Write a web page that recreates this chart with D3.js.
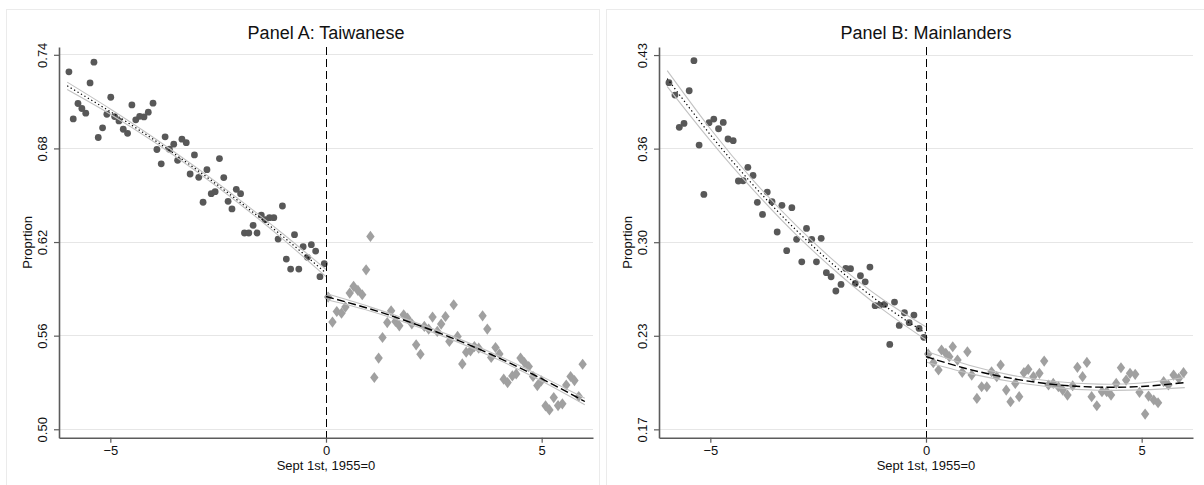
<!DOCTYPE html>
<html><head><meta charset="utf-8">
<script src="https://cdn.jsdelivr.net/npm/d3@7"></script>
<style>
body{margin:0;background:#fff}
svg{display:block;font-family:"Liberation Sans",Arial,Helvetica,sans-serif}
</style></head><body>
<svg id="chart" width="1204" height="485"></svg>
<script>
// ---------- data ----------
const titles = ["Panel A: Taiwanese", "Panel B: Mainlanders"];
const xTitle = "Sept 1st, 1955=0";
const yTitle = "Proprtion";
const xTicks = [-5, 0, 5];
const xTickLabels = ["\u22125", "0", "5"];
const yTicksA = [0.50, 0.56, 0.62, 0.68, 0.74];
const yTickLabelsA = ["0.50", "0.56", "0.62", "0.68", "0.74"];
const yTicksB = [0.17, 0.235, 0.30, 0.365, 0.43];
const yTickLabelsB = ["0.17", "0.23", "0.30", "0.36", "0.43"];

// Panel A, before cutoff (circles)
const xApre = [-5.96,-5.86,-5.75,-5.66,-5.57,-5.47,-5.38,-5.28,-5.18,-5.08,
 -4.99,-4.90,-4.80,-4.70,-4.60,-4.50,-4.41,-4.32,-4.22,-4.12,
 -4.01,-3.92,-3.82,-3.73,-3.63,-3.53,-3.44,-3.34,-3.24,-3.15,
 -3.05,-2.95,-2.85,-2.76,-2.66,-2.57,-2.47,-2.37,-2.27,-2.18,
 -2.08,-1.98,-1.89,-1.79,-1.69,-1.60,-1.50,-1.41,-1.31,-1.21,
 -1.11,-1.01,-0.92,-0.82,-0.73,-0.63,-0.53,-0.43,-0.34,-0.24,
 -0.14,-0.04];
const yApre = [0.7291,0.6989,0.7088,0.7056,0.7026,0.7220,0.7353,0.6870,0.6932,0.7019,
 0.7128,0.7004,0.6976,0.6923,0.6897,0.7079,0.6983,0.7006,0.7002,0.7032,
 0.7090,0.6793,0.6701,0.6874,0.6795,0.6827,0.6724,0.6859,0.6837,0.6636,
 0.6758,0.6615,0.6455,0.6664,0.6510,0.6523,0.6735,0.6613,0.6461,0.6412,
 0.6538,0.6510,0.6258,0.6258,0.6307,0.6258,0.6373,0.6343,0.6356,0.6356,
 0.6219,0.6431,0.6091,0.6027,0.6247,0.6027,0.6170,0.6102,0.6183,0.6142,
 0.5978,0.6061];
// Panel A, after cutoff (diamonds)
const xApost = [0.05,0.15,0.25,0.36,0.45,0.55,0.64,0.74,0.84,0.93,
 1.03,1.12,1.22,1.31,1.42,1.51,1.61,1.70,1.80,1.89,
 1.99,2.09,2.19,2.28,2.38,2.47,2.58,2.67,2.77,2.86,
 2.96,3.05,3.16,3.25,3.35,3.44,3.54,3.63,3.74,3.83,
 3.93,4.02,4.12,4.21,4.32,4.41,4.51,4.60,4.70,4.80,
 4.90,4.99,5.09,5.18,5.28,5.38,5.48,5.57,5.67,5.76,
 5.86,5.95];
const yApost = [0.5847,0.5687,0.5755,0.5744,0.5783,0.5873,0.5916,0.5890,0.5862,0.6022,
 0.6236,0.5332,0.5456,0.5588,0.5684,0.5759,0.5691,0.5663,0.5734,0.5712,
 0.5676,0.5541,0.5481,0.5659,0.5642,0.5719,0.5627,0.5674,0.5723,0.5563,
 0.5798,0.5595,0.5419,0.5494,0.5503,0.5530,0.5520,0.5727,0.5642,0.5460,
 0.5524,0.5483,0.5321,0.5299,0.5342,0.5355,0.5456,0.5428,0.5402,0.5338,
 0.5280,0.5310,0.5150,0.5124,0.5203,0.5152,0.5163,0.5284,0.5338,0.5312,
 0.5210,0.5417];
// Panel B, before cutoff
const xBpre = [-5.96,-5.82,-5.72,-5.61,-5.49,-5.38,-5.26,-5.15,-5.03,-4.92,
 -4.81,-4.70,-4.59,-4.47,-4.35,-4.24,-4.13,-4.01,-3.91,-3.79,
 -3.68,-3.57,-3.45,-3.34,-3.23,-3.11,-3.00,-2.88,-2.77,-2.65,
 -2.54,-2.43,-2.31,-2.20,-2.09,-1.97,-1.86,-1.75,-1.64,-1.52,
 -1.41,-1.30,-1.18,-1.07,-0.96,-0.84,-0.73,-0.62,-0.50,-0.39,
 -0.28,-0.16,-0.05];
const yBpre = [0.4108,0.4022,0.3798,0.3825,0.4052,0.4261,0.3675,0.3332,0.3830,0.3855,
 0.3788,0.3832,0.3717,0.3705,0.3425,0.3427,0.3520,0.3464,0.3277,0.3193,
 0.3348,0.3281,0.3071,0.3256,0.2941,0.3240,0.3020,0.2864,0.3096,0.3020,
 0.2864,0.3027,0.2788,0.2760,0.2661,0.2707,0.2818,0.2816,0.2714,0.2767,
 0.2725,0.2827,0.2559,0.2563,0.2568,0.2290,0.2584,0.2422,0.2510,0.2441,
 0.2494,0.2401,0.2339];
// Panel B, after cutoff
const xBpost = [0.05,0.17,0.29,0.36,0.46,0.54,0.62,0.73,0.84,0.96,
 1.06,1.18,1.29,1.41,1.52,1.64,1.73,1.86,1.96,2.07,
 2.16,2.27,2.37,2.49,2.63,2.74,2.84,2.95,3.07,3.17,
 3.28,3.40,3.51,3.63,3.73,3.84,3.96,4.08,4.19,4.29,
 4.41,4.52,4.64,4.73,4.85,4.95,5.08,5.16,5.28,5.38,
 5.51,5.62,5.74,5.86,5.97];
const yBpost = [0.2223,0.2163,0.2112,0.2251,0.2228,0.2205,0.2274,0.2181,0.2096,0.2239,
 0.2077,0.1915,0.1996,0.1996,0.2100,0.2066,0.2147,0.1973,0.1892,0.2019,
 0.1927,0.2094,0.2117,0.2066,0.2089,0.2174,0.2008,0.2019,0.1996,0.1973,
 0.1938,0.2003,0.2131,0.2066,0.2165,0.1927,0.1864,0.1962,0.1962,0.1938,
 0.2019,0.2128,0.2042,0.2089,0.2082,0.1957,0.1806,0.1931,0.1904,0.1885,
 0.2031,0.2008,0.2077,0.2054,0.2094];

// fitted curves and confidence bands (read at whole years)
const fitXpre = [-6,-5,-4,-3,-2,-1,0];
const fitXpost = [0,1,2,3,4,5,6];
const fitApre = [0.7201,0.7036,0.6857,0.6664,0.6457,0.6236,0.6001];
const hiApre  = [0.7225,0.7053,0.6870,0.6676,0.6470,0.6253,0.6024];
const loApre  = [0.7177,0.7019,0.6844,0.6652,0.6444,0.6219,0.5978];
const fitApost = [0.5851,0.5773,0.5681,0.5577,0.5458,0.5324,0.5178];
const hiApost  = [0.5870,0.5786,0.5693,0.5589,0.5471,0.5339,0.5199];
const loApost  = [0.5832,0.5760,0.5669,0.5565,0.5445,0.5309,0.5157];
const fitBpre = [0.4137,0.3747,0.3395,0.3081,0.2805,0.2567,0.2367];
const hiBpre  = [0.4192,0.3788,0.3428,0.3113,0.2836,0.2602,0.2412];
const loBpre  = [0.4082,0.3706,0.3362,0.3049,0.2774,0.2532,0.2322];
const fitBpost = [0.2205,0.2117,0.2053,0.2011,0.1993,0.1998,0.2025];
const hiBpost  = [0.2242,0.2145,0.2075,0.2032,0.2014,0.2022,0.2060];
const loBpost  = [0.2168,0.2089,0.2031,0.1990,0.1972,0.1974,0.1990];

// ---------- drawing ----------
const svg = d3.select("#chart");
const PT = 47, PB = 437.7;
const panels = [
  {title: titles[0], boxL: 6.5, boxW: 593, pl: 59, pr: 593, yDom: [0.4946, 0.745],
   yTicks: yTicksA, yLabels: yTickLabelsA,
   pre: [xApre, yApre], post: [xApost, yApost],
   fitPre: [fitApre, loApre, hiApre], fitPost: [fitApost, loApost, hiApost]},
  {title: titles[1], boxL: 606.5, boxW: 605, pl: 659, pr: 1193, yDom: [0.1642, 0.4356],
   yTicks: yTicksB, yLabels: yTickLabelsB,
   pre: [xBpre, yBpre], post: [xBpost, yBpost],
   fitPre: [fitBpre, loBpre, hiBpre], fitPost: [fitBpost, loBpost, hiBpost]}
];

const axisCol = "#5c5c5c";
const circCol = "#585858";
const diaCol = "#a0a0a0";
const ciCol = "#c2c2c2";
const snap = v => Math.round(v - 0.5) + 0.5;

panels.forEach(p => {
  const g = svg.append("g");
  g.append("rect").attr("x", p.boxL).attr("y", 9.5).attr("width", p.boxW).attr("height", 500)
    .attr("fill", "none").attr("stroke", "#ebebeb").attr("stroke-width", 1);

  const x = d3.scaleLinear().domain([-6.19, 6.19]).range([p.pl, p.pr]);
  const y = d3.scaleLinear().domain(p.yDom).range([PB, PT]);

  // gridlines
  g.selectAll("line.grid").data(p.yTicks).enter().append("line")
    .attr("x1", p.pl).attr("x2", p.pr).attr("y1", d => snap(y(d))).attr("y2", d => snap(y(d)))
    .attr("stroke", "#e6e6e6").attr("stroke-width", 1);

  // y axis
  const ya = g.append("g").attr("transform", `translate(${p.pl},0)`)
    .call(d3.axisLeft(y).tickValues(p.yTicks).tickFormat((d, i) => p.yLabels[i]).tickSize(5).tickSizeOuter(0));
  ya.select(".domain").attr("stroke", axisCol).attr("stroke-width", 1.6);
  ya.selectAll(".tick line").attr("stroke", axisCol).attr("stroke-width", 1.2);
  ya.selectAll(".tick text").attr("transform", "rotate(-90)").attr("x", 0).attr("y", -12.5)
    .attr("dy", 0).attr("text-anchor", "middle").attr("fill", "#111")
    .style("font-size", "13px").style("font-family", "Liberation Sans, Arial, sans-serif");

  // x axis
  const xa = g.append("g").attr("transform", `translate(0,${PB})`)
    .call(d3.axisBottom(x).tickValues(xTicks).tickFormat((d, i) => xTickLabels[i]).tickSize(5).tickSizeOuter(0));
  xa.select(".domain").attr("stroke", axisCol).attr("stroke-width", 1.6);
  xa.selectAll(".tick line").attr("stroke", axisCol).attr("stroke-width", 1.2);
  xa.selectAll(".tick text").attr("y", 17.5).attr("dy", 0).attr("fill", "#111")
    .style("font-size", "13px").style("font-family", "Liberation Sans, Arial, sans-serif");

  const cx = (p.pl + p.pr) / 2;
  g.append("text").attr("x", cx).attr("y", 38.5).attr("text-anchor", "middle")
    .attr("fill", "#111").style("font-size", "18px").text(p.title);
  g.append("text").attr("x", cx).attr("y", 470).attr("text-anchor", "middle")
    .attr("fill", "#111").style("font-size", "13px").text(xTitle);
  g.append("text").attr("transform", `translate(${p.pl - 27.5},${(PT + PB) / 2}) rotate(-90)`)
    .attr("text-anchor", "middle").attr("fill", "#111").style("font-size", "13px").text(yTitle);

  // scatter
  const preData = p.pre[0].map((v, i) => [v, p.pre[1][i]]);
  const postData = p.post[0].map((v, i) => [v, p.post[1][i]]);
  g.selectAll("circle.pre").data(preData).enter().append("circle")
    .attr("cx", d => x(d[0])).attr("cy", d => y(d[1])).attr("r", 3.4).attr("fill", circCol);
  const dia = d3.symbol().type(d3.symbolDiamond).size(36);
  g.selectAll("path.post").data(postData).enter().append("path")
    .attr("d", dia).attr("transform", d => `translate(${x(d[0])},${y(d[1])}) scale(1.3,1)`)
    .attr("fill", diaCol);

  // fits
  const line = d3.line().x(d => x(d[0])).y(d => y(d[1])).curve(d3.curveNatural);
  function drawFit(xs, arrs, dash) {
    const [fit, lo, hi] = arrs;
    [lo, hi].forEach(a => {
      g.append("path").datum(xs.map((v, i) => [v, a[i]])).attr("d", line)
        .attr("fill", "none").attr("stroke", ciCol).attr("stroke-width", 1.1);
    });
    g.append("path").datum(xs.map((v, i) => [v, fit[i]])).attr("d", line)
      .attr("fill", "none").attr("stroke", "#000").attr("stroke-width", dash === "dot" ? 1.2 : 1.4)
      .attr("stroke-dasharray", dash === "dot" ? "1.3,2.7" : "8,3.5");
  }
  drawFit(fitXpre, p.fitPre, "dot");
  drawFit(fitXpost, p.fitPost, "dash");

  // cutoff line
  const x0 = snap(x(0));
  g.append("line").attr("x1", x0).attr("x2", x0).attr("y1", PT).attr("y2", PB)
    .attr("stroke", "#000").attr("stroke-width", 1).attr("stroke-dasharray", "8,4");
});
</script>
</body></html>
